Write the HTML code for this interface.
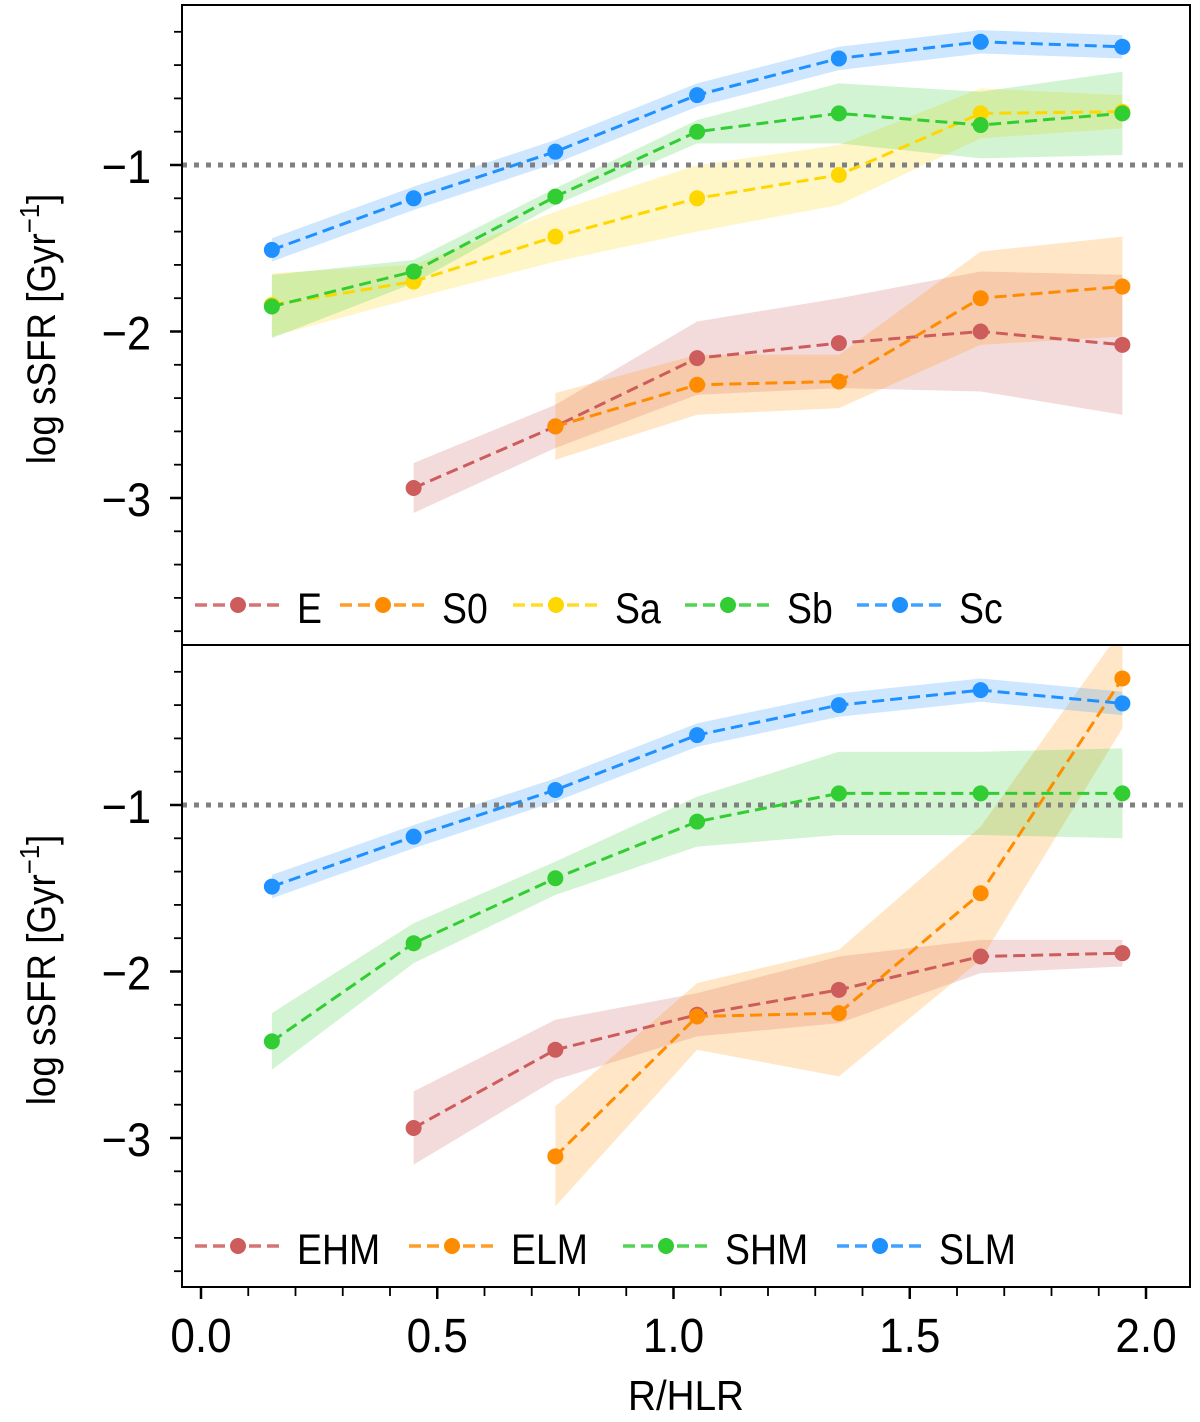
<!DOCTYPE html>
<html><head><meta charset="utf-8"><style>
html,body{margin:0;padding:0;background:#fff;}
svg text{font-family:"Liberation Sans","DejaVu Sans",sans-serif;}
</style></head><body>
<svg id="c" width="1200" height="1417" xmlns="http://www.w3.org/2000/svg"></svg>
<script>
const xs = [0.15,0.45,0.75,1.05,1.35,1.65,1.95];
const topNames = ['E','S0','Sa','Sb','Sc'];
const botNames = ['EHM','ELM','SHM','SLM'];
const E_v  = [null,-2.94,-2.57,-2.16,-2.07,-2.00,-2.08];
const E_e  = [null,0.15,0.13,0.22,0.27,0.36,0.42];
const S0_v = [null,null,-2.57,-2.32,-2.30,-1.80,-1.73];
const S0_e = [null,null,0.2,0.18,0.16,0.28,0.3];
const Sa_v = [-1.84,-1.70,-1.43,-1.20,-1.06,-0.69,-0.68];
const Sa_e = [0.19,0.1,0.15,0.2,0.18,0.15,0.1];
const Sb_v = [-1.85,-1.64,-1.19,-0.80,-0.69,-0.76,-0.69];
const Sb_e = [0.19,0.07,0.05,0.07,0.18,0.2,0.25];
const Sc_v = [-1.51,-1.20,-0.92,-0.58,-0.36,-0.26,-0.29];
const Sc_e = [0.07,0.07,0.07,0.07,0.07,0.07,0.07];
const EHM_v = [null,-2.94,-2.47,-2.26,-2.11,-1.91,-1.89];
const EHM_e = [null,0.22,0.18,0.13,0.2,0.1,0.08];
const ELM_v = [null,null,-3.11,-2.27,-2.25,-1.53,-0.24];
const ELM_e = [null,null,0.3,0.2,0.38,0.4,0.3];
const SHM_v = [-2.42,-1.83,-1.44,-1.10,-0.93,-0.93,-0.93];
const SHM_e = [0.17,0.12,0.1,0.15,0.25,0.25,0.27];
const SLM_v = [-1.49,-1.19,-0.91,-0.58,-0.40,-0.31,-0.39];
const SLM_e = [0.07,0.07,0.07,0.07,0.07,0.07,0.07];
const yTicks = [-1,-2,-3];
const yTickLabels = ['\u22121','\u22122','\u22123'];
const xTicks = [0,0.5,1,1.5,2];
const xTickLabels = ['0.0','0.5','1.0','1.5','2.0'];

const cols = {E:'#cd5c5c',S0:'#ff8c00',Sa:'#ffd700',Sb:'#32cd32',Sc:'#1e90ff',EHM:'#cd5c5c',ELM:'#ff8c00',SHM:'#32cd32',SLM:'#1e90ff'};
const data = {E:[E_v,E_e],S0:[S0_v,S0_e],Sa:[Sa_v,Sa_e],Sb:[Sb_v,Sb_e],Sc:[Sc_v,Sc_e],EHM:[EHM_v,EHM_e],ELM:[ELM_v,ELM_e],SHM:[SHM_v,SHM_e],SLM:[SLM_v,SLM_e]};
const svg = document.getElementById('c');
const NS='http://www.w3.org/2000/svg';
function mk(t,a,p){const e=document.createElementNS(NS,t);for(const k in a)e.setAttribute(k,a[k]);(p||svg).appendChild(e);return e;}
const L=182,R=1190;
const X = v => 201 + v*472.5;
const panels=[{top:5,bot:645,y0:165,names:topNames,id:'top',lx:[195,340,513,685,857],ly:605},
              {top:645,bot:1287,y0:805,names:botNames,id:'bottom',lx:[195,409,623,837],ly:1246}];
panels.forEach(P=>{
  const Y = v => P.y0 + (-1 - v)*166.5;
  const g=mk('g',{});
  
  
  const clip=mk('clipPath',{id:'cl'+P.id},g);
  mk('rect',{x:L,y:P.top,width:R-L,height:P.bot-P.top},clip);
  const pg=mk('g',{'clip-path':'url(#cl'+P.id+')'},g);
  P.names.forEach(n=>{
    const [v,e]=data[n];
    const idx=[];v.forEach((val,i)=>{if(val!==null)idx.push(i);});
    let d='';
    idx.forEach((i,k)=>{d+=(k?'L':'M')+X(xs[i])+','+Y(v[i]+e[i]);});
    idx.slice().reverse().forEach(i=>{d+='L'+X(xs[i])+','+Y(v[i]-e[i]);});
    const b=mk('path',{d:d+'Z',fill:cols[n],'fill-opacity':0.22,stroke:'none'},pg);
    
    
  });
  const dl=mk('line',{x1:L,x2:R,y1:Y(-1),y2:Y(-1),stroke:'#808080','stroke-width':5,'stroke-dasharray':'5 7'},pg);
  
  
  P.names.forEach(n=>{
    const [v]=data[n];
    const pts=[];v.forEach((val,i)=>{if(val!==null)pts.push(X(xs[i])+','+Y(val));});
    const ln=mk('polyline',{points:pts.join(' '),fill:'none',stroke:cols[n],'stroke-width':3,'stroke-dasharray':'12 6'},pg);
    
    
    v.forEach((val,i)=>{if(val===null)return;
      const c=mk('circle',{cx:X(xs[i]),cy:Y(val),r:8,fill:cols[n]},pg);
      
      
    });
  });
  for(let k=0;k<25;k++){const v=-0.2*k; const y=Y(v); if(y<P.top||y>P.bot)continue;
    const major=Math.abs(v-Math.round(v))<1e-6;
    mk('line',{x1:L,x2:L-(major?12:8),y1:y,y2:y,stroke:'#000','stroke-width':major?2.5:1.8},g);}
  yTicks.forEach((t,i)=>{const tx=mk('text',{x:0,y:0,'text-anchor':'end','font-size':47,transform:`translate(151,${Y(t)+18}) scale(0.92,1)`},g);tx.textContent=yTickLabels[i];
    });
  const cy=(P.top+P.bot)/2+4;
  const yt=mk('text',{x:0,y:0,'font-size':40,'text-anchor':'middle',transform:`translate(55,${cy}) rotate(-90) scale(0.92,1)`},g);
  yt.innerHTML='log sSFR [Gyr<tspan font-size="28" dy="-16">\u22121</tspan><tspan dy="16">]</tspan>';
  
  mk('rect',{x:L,y:P.top,width:R-L,height:P.bot-P.top,fill:'none',stroke:'#000','stroke-width':2},g);
  const lg=mk('g',{},g);
  
  
  P.names.forEach((n,i)=>{
    const x0=P.lx[i];
    const eg=mk('g',{},lg);
    
    
    mk('line',{x1:x0,x2:x0+85,y1:P.ly,y2:P.ly,stroke:cols[n],'stroke-width':3.5,'stroke-dasharray':'12 6','stroke-opacity':0.85},eg);
    mk('circle',{cx:x0+43,cy:P.ly,r:8,fill:cols[n]},eg);
    const t=mk('text',{x:0,y:0,'font-size':43,transform:`translate(${x0+102},${P.ly+18}) scale(0.87,1)`},eg);t.textContent=n;
  });
});
for(let k=0;k<=20;k++){const v=k*0.1;const x=X(v);const major=k%5===0;
  mk('line',{x1:x,x2:x,y1:1287,y2:1287+(major?12:9),stroke:'#000','stroke-width':major?2.5:1.8});}
xTicks.forEach((t,i)=>{const tx=mk('text',{x:0,y:0,'text-anchor':'middle','font-size':48,transform:`translate(${X(t)},1352) scale(0.92,1)`});tx.textContent=xTickLabels[i];
  });
const xt=mk('text',{x:0,y:0,'text-anchor':'middle','font-size':42,transform:'translate(686,1410) scale(0.92,1)'});xt.textContent='R/HLR';

</script>
</body></html>
